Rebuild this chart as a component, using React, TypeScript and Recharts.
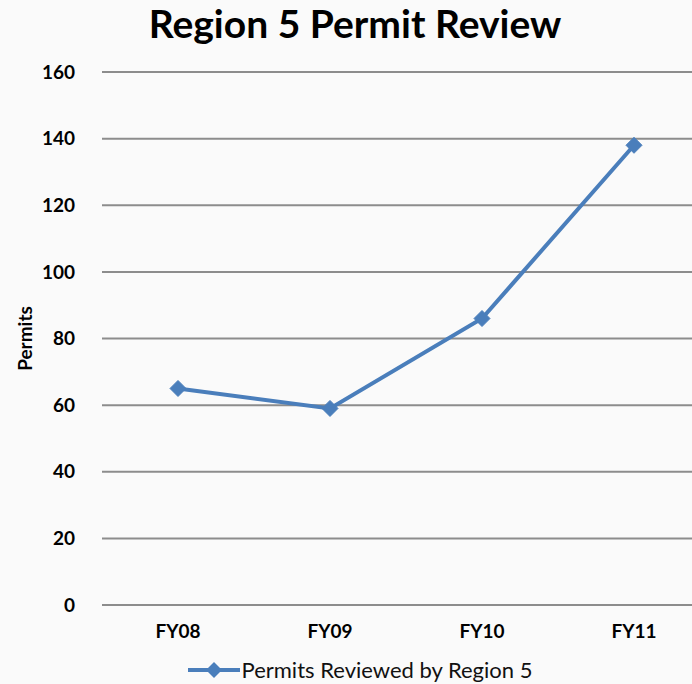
import { LineChart, Line, XAxis, YAxis, CartesianGrid, Legend } from 'recharts';

const years = ['FY08', 'FY09', 'FY10', 'FY11'];
const permits = [65, 59, 86, 138];
const yTicks = [0, 20, 40, 60, 80, 100, 120, 140, 160];

const data = years.map((y, i) => ({ name: y, permits: permits[i] }));

const FONT = 'Lato, "Open Sans", sans-serif';
const BLUE = '#4A7EBB';

const Diamond = (props: any) => {
    const { cx, cy } = props;
    if (cx == null || cy == null) return null;
    const r = 8;
    return (
        <polygon
            points={`${cx},${cy - r} ${cx + r},${cy} ${cx},${cy + r} ${cx - r},${cy}`}
            fill={BLUE}
            stroke={BLUE}
            strokeWidth={1}
        />
    );
};

const LegendBox = () => (
    <div style={{ display: 'flex', alignItems: 'center', justifyContent: 'center', fontFamily: FONT, fontSize: 22, color: '#111' }}>
        <svg width={52} height={18} style={{ marginRight: 2 }}>
            <line x1={0} y1={9} x2={52} y2={9} stroke={BLUE} strokeWidth={4} />
            <polygon points="26,1 34,9 26,17 18,9" fill={BLUE} />
        </svg>
        <span>Permits Reviewed by Region 5</span>
    </div>
);

export default function App() {
    return (
        <div style={{ position: 'absolute', left: 0, top: 0, width: 692, height: 684, overflow: 'hidden', background: '#fafafa' }}>
            <div style={{ position: 'absolute', top: 0, left: 0, width: 710, textAlign: 'center', fontFamily: FONT, fontWeight: 700, fontSize: 39, lineHeight: '46px', color: '#000' }}>
                Region 5 Permit Review
            </div>
            <LineChart width={720} height={684} data={data} margin={{ top: 72, right: 10, bottom: 39, left: 40 }}>
                <CartesianGrid vertical={false} stroke="#8c8c8c" strokeWidth={2} />
                <XAxis
                    dataKey="name"
                    axisLine={false}
                    tickLine={false}
                    padding={{ left: 76, right: 76 }}
                    tick={{ fontFamily: FONT, fontSize: 19, fontWeight: 700, fill: '#000' }}
                    tickMargin={14}
                    height={40}
                />
                <YAxis
                    domain={[0, 160]}
                    ticks={yTicks}
                    axisLine={false}
                    tickLine={false}
                    width={62}
                    tickMargin={21}
                    tick={{ fontFamily: FONT, fontSize: 19, fontWeight: 700, fill: '#000' }}
                    label={{ value: 'Permits', angle: -90, position: 'insideLeft', offset: -15, style: { fontFamily: FONT, fontSize: 19, fontWeight: 700, fill: '#000', textAnchor: 'middle' } }}
                />
                <Legend verticalAlign="middle" align="center" wrapperStyle={{ top: 656, left: 0, width: 720 }} content={<LegendBox />} />
                <Line
                    type="linear"
                    dataKey="permits"
                    stroke={BLUE}
                    strokeWidth={4}
                    dot={<Diamond />}
                    activeDot={false}
                    isAnimationActive={false}
                />
            </LineChart>
        </div>
    );
}
